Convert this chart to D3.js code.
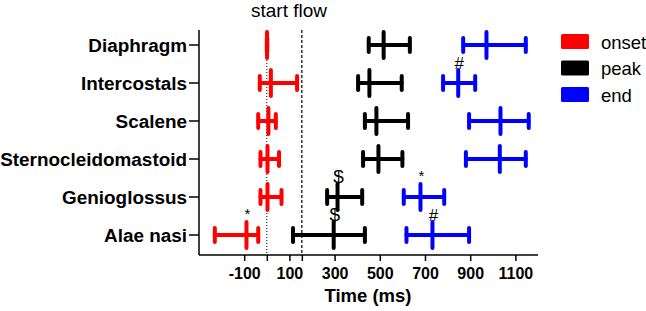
<!DOCTYPE html>
<html><head><meta charset="utf-8">
<script src="https://cdn.jsdelivr.net/npm/d3@7"></script>
<style>body{margin:0;background:#fff}svg{display:block;font-family:"Liberation Sans",Arial,sans-serif}</style>
</head><body>
<svg id="c" width="646" height="311"></svg>
<script>
const muscles = ["Diaphragm","Intercostals","Scalene","Sternocleidomastoid","Genioglossus","Alae nasi"];
const seriesNames = ["onset","peak","end"];
const seriesColors = ["#ff0000","#000000","#0000ff"];
// center, lower, upper (ms)
const onsetMid = [1, 18, 7, 3, 3, -90];
const onsetLo  = [0, -31, -38, -28, -28, -230];
const onsetHi  = [2, 134, 40, 54, 65, -38];
const peakMid  = [517, 454, 485, 494, 313, 296];
const peakLo   = [451, 404, 434, 426, 267, 116];
const peakHi   = [633, 597, 625, 600, 422, 434];
const endMid   = [972, 847, 1034, 1031, 680, 733];
const endLo    = [869, 780, 895, 881, 606, 618];
const endHi    = [1146, 922, 1159, 1146, 785, 895];
const xTicks = [-100, 100, 300, 500, 700, 900, 1100];
const xDomain = [-300, 1200];
const startFlow = 155;
// annotations: [muscle, series, symbol]
const annotations = [["Intercostals","end","#"],["Genioglossus","peak","$"],["Genioglossus","end","*"],["Alae nasi","onset","*"],["Alae nasi","peak","$"],["Alae nasi","end","#"]];

const svg = d3.select("#c");
const x = d3.scaleLinear().domain(xDomain).range([199, 538]);
const y = d3.scalePoint().domain(muscles).range([45, 235]);
const axTop = 30, axBot = 255;

const series = [
  {name:"onset", mid:onsetMid, lo:onsetLo, hi:onsetHi},
  {name:"peak", mid:peakMid, lo:peakLo, hi:peakHi},
  {name:"end", mid:endMid, lo:endLo, hi:endHi}
];

// reference lines
svg.append("line").attr("x1",x(0)).attr("x2",x(0)).attr("y1",axTop).attr("y2",axBot)
  .attr("stroke","#000").attr("stroke-width",1).attr("stroke-dasharray","1,2");
svg.append("line").attr("x1",x(startFlow)).attr("x2",x(startFlow)).attr("y1",axTop).attr("y2",axBot)
  .attr("stroke","#000").attr("stroke-width",1.2).attr("stroke-dasharray","3,2");
svg.append("text").attr("x",289).attr("y",17).attr("text-anchor","middle")
  .attr("font-size",19).text("start flow");

// error bars
series.forEach((s,si)=>{
  const g = svg.append("g").attr("stroke",seriesColors[si]).attr("stroke-width",4).attr("stroke-linecap","round");
  muscles.forEach((m,i)=>{
    const cy = y(m);
    g.append("line").attr("x1",x(s.lo[i])).attr("x2",x(s.hi[i])).attr("y1",cy).attr("y2",cy);
    g.append("line").attr("x1",x(s.lo[i])).attr("x2",x(s.lo[i])).attr("y1",cy-7).attr("y2",cy+7);
    g.append("line").attr("x1",x(s.hi[i])).attr("x2",x(s.hi[i])).attr("y1",cy-7).attr("y2",cy+7);
    g.append("line").attr("x1",x(s.mid[i])).attr("x2",x(s.mid[i])).attr("y1",cy-13).attr("y2",cy+13);
  });
});

// annotations
annotations.forEach(([m,sn,sym])=>{
  const s = series.find(d=>d.name===sn);
  const i = muscles.indexOf(m);
  const fs = sym==="$"?19:(sym==="#"?17:15);
  const dy = sym==="*"?-16:-14;
  svg.append("text").attr("x",x(s.mid[i])+1).attr("y",y(m)+dy).attr("text-anchor","middle")
    .attr("font-size",fs).text(sym);
});

// axes
const yAxis = svg.append("g").attr("transform","translate(199,0)");
yAxis.append("line").attr("x1",0).attr("x2",0).attr("y1",axTop).attr("y2",axBot).attr("stroke","#000").attr("stroke-width",1.5);
muscles.forEach(m=>{
  yAxis.append("line").attr("x1",-10).attr("x2",0).attr("y1",y(m)).attr("y2",y(m)).attr("stroke","#000").attr("stroke-width",1.5);
  yAxis.append("text").attr("x",-12).attr("y",y(m)).attr("dy","0.36em").attr("text-anchor","end")
    .attr("font-size",18.9).attr("font-weight","bold").text(m);
});
const allTicks = [...xTicks, 0, startFlow].sort((a,b)=>a-b);
const xAxis = svg.append("g").attr("transform",`translate(0,${axBot})`)
  .call(d3.axisBottom(x).tickValues(allTicks).tickSize(6).tickPadding(7)
    .tickFormat(d => xTicks.includes(d) ? String(d) : ""));
xAxis.select(".domain").attr("stroke","#000").attr("stroke-width",1.5).attr("d",`M199,0H538`);
xAxis.selectAll(".tick line").attr("stroke","#000").attr("stroke-width",1.5);
xAxis.selectAll("text").attr("font-size",16).attr("font-weight","bold").attr("fill","#000")
  .attr("font-family","'Liberation Sans',Arial,sans-serif");
svg.append("text").attr("x",368).attr("y",302).attr("text-anchor","middle")
  .attr("font-size",18.5).attr("font-weight","bold").text("Time (ms)");

// legend
const lg = svg.append("g");
seriesNames.forEach((n,i)=>{
  lg.append("rect").attr("x",561).attr("y",34+i*26.5).attr("width",28).attr("height",15).attr("rx",1.5).attr("fill",seriesColors[i]);
  lg.append("text").attr("x",601).attr("y",48.5+i*26.5).attr("font-size",18.5).text(n);
});
</script>
</body></html>
